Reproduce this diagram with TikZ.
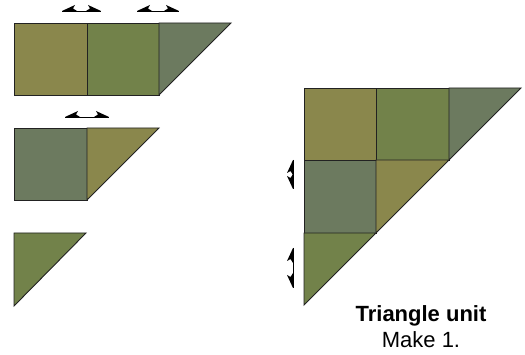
\documentclass[tikz,border=0pt]{standalone}
\usepackage{fontspec}
\setmainfont{Liberation Sans}
\definecolor{cA}{HTML}{8A874C}
\definecolor{cB}{HTML}{72824A}
\definecolor{cC}{HTML}{6C7A5F}
\definecolor{edge}{HTML}{222222}
\tikzset{
  piece/.style={draw=edge, line width=0.9pt, line join=miter},
  arrowline/.style={draw=black, line width=0.9pt},
  headfill/.style={fill=black},
}
\begin{document}
\begin{tikzpicture}[x=1pt,y=-1pt]
\useasboundingbox (0,0) rectangle (525,355);
% left strip 1
\filldraw[piece, fill=cA] (14,23) rectangle (87,95);
\filldraw[piece, fill=cB] (87,23) rectangle (159,95);
\filldraw[piece, fill=cC] (159,23) -- (231,23) -- (159,95) -- cycle;
% left strip 2
\filldraw[piece, fill=cC] (14,128) rectangle (87,200);
\filldraw[piece, fill=cA] (87,128) -- (159,128) -- (87,200) -- cycle;
% left strip 3
\filldraw[piece, fill=cB] (14,233) -- (86,233) -- (14,306) -- cycle;
% assembled triangle
\filldraw[piece, fill=cA] (304,88) rectangle (376,160);
\filldraw[piece, fill=cB] (376,88) rectangle (449,160);
\filldraw[piece, fill=cC] (449,88) -- (521,88) -- (449,160) -- cycle;
\filldraw[piece, fill=cC] (304,160) rectangle (376,233);
\filldraw[piece, fill=cA] (376,160) -- (449,160) -- (376,233) -- cycle;
\filldraw[piece, fill=cB] (304,233) -- (376,233) -- (304,305) -- cycle;
% horizontal swing arrows
\foreach \xa/\xb/\yy in {62/101/11, 137/179/11, 65/109/117}{
  \draw[arrowline] (\xa,\yy) -- (\xb,\yy);
  \fill[headfill] (\xa,\yy) -- (\xa+13,\yy-6) -- (\xa+11,\yy-2.5) -- (\xa+15,\yy) -- cycle;
  \fill[headfill] (\xb,\yy) -- (\xb-13,\yy-6) -- (\xb-11,\yy-2.5) -- (\xb-15,\yy) -- cycle;
}
% vertical swing arrows
\foreach \ya/\yb in {160/189, 248/288}{
  \draw[arrowline] (293,\ya) -- (293,\yb);
  \fill[headfill] (293,\ya) -- (287,\ya+13) -- (290.5,\ya+11) -- (293,\ya+15) -- cycle;
  \fill[headfill] (293,\yb) -- (287,\yb-13) -- (290.5,\yb-11) -- (293,\yb-15) -- cycle;
}
\node[font=\bfseries\fontsize{22}{26}\selectfont, anchor=base, inner sep=0pt] (title) at (421,322) {Triangle unit};
\node[font=\fontsize{22}{26}\selectfont, anchor=base, inner sep=0pt] (make) at (421,348) {Make 1.};
\end{tikzpicture}
\end{document}
